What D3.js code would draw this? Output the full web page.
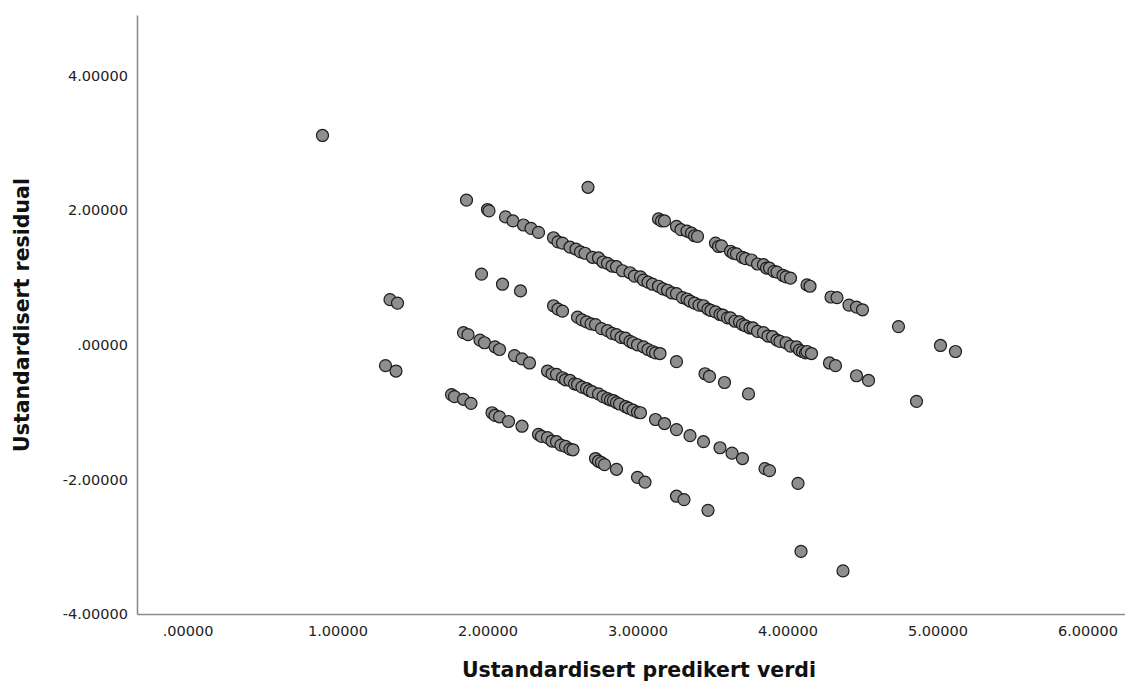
<!DOCTYPE html>
<html>
<head>
<meta charset="utf-8">
<script src="https://cdn.jsdelivr.net/npm/d3@7"></script>
<style>
  body { margin: 0; background: #fff; }
  svg { display: block; }
</style>
</head>
<body>
<svg id="chart" width="1125" height="683"></svg>
<script>
// Unstandardized predicted values (x) and unstandardized residuals (y), one entry per case.
const predicted = [
  // observed value 4
  0.90, 1.86, 2.00, 2.01, 2.12, 2.17, 2.24, 2.29, 2.34, 2.44, 2.47, 2.50, 2.55, 2.59, 2.62, 2.65,
  2.70, 2.74, 2.77, 2.80, 2.83, 2.86, 2.90, 2.95, 2.98, 3.02, 3.04, 3.07, 3.10, 3.14, 3.17, 3.20,
  3.23, 3.26, 3.30, 3.33, 3.35, 3.38, 3.41, 3.44, 3.47, 3.49, 3.52, 3.55, 3.57, 3.60, 3.62, 3.65,
  3.68, 3.70, 3.72, 3.75, 3.77, 3.80, 3.84, 3.87, 3.90, 3.93, 3.95, 3.99, 4.02, 4.06, 4.08, 4.10,
  4.12, 4.13, 4.16, 4.28, 4.32, 4.46, 4.54, 4.86,
  // observed value 5
  2.67, 3.14, 3.16, 3.18, 3.26, 3.29, 3.33, 3.36, 3.38, 3.40, 3.52, 3.54, 3.56, 3.62, 3.64, 3.66,
  3.70, 3.72, 3.76, 3.80, 3.84, 3.86, 3.88, 3.91, 3.93, 3.97, 3.99, 4.02, 4.13, 4.15, 4.29, 4.33,
  4.41, 4.46, 4.50, 4.74, 5.02, 5.12,
  // observed value 3
  1.96, 2.10, 2.22, 2.44, 2.47, 2.50, 2.60, 2.63, 2.66, 2.69, 2.72, 2.76, 2.80, 2.83, 2.86, 2.89,
  2.92, 2.95, 2.97, 3.00, 3.04, 3.07, 3.10, 3.12, 3.15, 3.26, 3.45, 3.48, 3.58, 3.74,
  // observed value 2
  1.35, 1.40, 1.84, 1.87, 1.95, 1.98, 2.05, 2.08, 2.18, 2.23, 2.28, 2.40, 2.43, 2.46, 2.50, 2.52,
  2.55, 2.58, 2.60, 2.63, 2.66, 2.68, 2.70, 2.74, 2.77, 2.80, 2.82, 2.84, 2.86, 2.88, 2.92, 2.94,
  2.97, 3.00, 3.02, 3.12, 3.18, 3.26, 3.35, 3.44, 3.55, 3.63, 3.70, 3.85, 3.88, 4.07,
  // observed value 1
  1.32, 1.39, 1.76, 1.78, 1.84, 1.89, 2.03, 2.05, 2.08, 2.14, 2.23, 2.34, 2.36, 2.40, 2.43, 2.46,
  2.49, 2.52, 2.55, 2.57, 2.72, 2.74, 2.76, 2.78, 2.86, 3.00, 3.05, 3.26, 3.31, 3.47, 4.09, 4.37
];
const residual = [
  // observed value 4
  3.11, 2.15, 2.01, 1.99, 1.90, 1.84, 1.78, 1.73, 1.67, 1.59, 1.53, 1.51, 1.45, 1.42, 1.38, 1.36,
  1.30, 1.29, 1.23, 1.21, 1.17, 1.16, 1.10, 1.07, 1.02, 1.01, 0.96, 0.93, 0.90, 0.87, 0.83, 0.81,
  0.77, 0.76, 0.70, 0.68, 0.65, 0.62, 0.59, 0.58, 0.53, 0.51, 0.49, 0.45, 0.44, 0.40, 0.40, 0.35,
  0.34, 0.30, 0.28, 0.25, 0.25, 0.20, 0.18, 0.13, 0.12, 0.07, 0.05, 0.03, -0.02, -0.03, -0.08, -0.10,
  -0.12, -0.10, -0.13, -0.27, -0.31, -0.46, -0.53, -0.84,
  // observed value 5
  2.34, 1.87, 1.84, 1.84, 1.76, 1.71, 1.69, 1.66, 1.62, 1.61, 1.51, 1.46, 1.47, 1.39, 1.36, 1.35,
  1.30, 1.28, 1.26, 1.20, 1.19, 1.14, 1.14, 1.09, 1.08, 1.03, 1.01, 0.99, 0.89, 0.87, 0.71, 0.70,
  0.59, 0.56, 0.52, 0.27, -0.01, -0.10,
  // observed value 3
  1.05, 0.90, 0.80, 0.58, 0.53, 0.50, 0.41, 0.37, 0.34, 0.31, 0.30, 0.24, 0.21, 0.17, 0.15, 0.11,
  0.10, 0.05, 0.03, 0.00, -0.03, -0.07, -0.10, -0.12, -0.13, -0.25, -0.43, -0.47, -0.56, -0.73,
  // observed value 2
  0.67, 0.62, 0.18, 0.15, 0.07, 0.03, -0.03, -0.07, -0.16, -0.21, -0.27, -0.39, -0.43, -0.44, -0.49, -0.52,
  -0.53, -0.58, -0.59, -0.63, -0.65, -0.68, -0.70, -0.73, -0.77, -0.80, -0.82, -0.83, -0.86, -0.88, -0.92, -0.94,
  -0.97, -1.00, -1.01, -1.11, -1.17, -1.26, -1.35, -1.44, -1.53, -1.61, -1.69, -1.84, -1.87, -2.06,
  // observed value 1
  -0.31, -0.39, -0.74, -0.77, -0.81, -0.87, -1.01, -1.05, -1.07, -1.14, -1.21, -1.33, -1.36, -1.38, -1.43, -1.44,
  -1.49, -1.51, -1.55, -1.56, -1.69, -1.73, -1.75, -1.78, -1.85, -1.97, -2.04, -2.25, -2.30, -2.46, -3.07, -3.36
];

const xTicks = [0, 1, 2, 3, 4, 5, 6];
const xTickLabels = [".00000", "1.00000", "2.00000", "3.00000", "4.00000", "5.00000", "6.00000"];
const yTicks = [-4, -2, 0, 2, 4];
const yTickLabels = ["-4.00000", "-2.00000", ".00000", "2.00000", "4.00000"];
const xTitle = "Ustandardisert predikert verdi";
const yTitle = "Ustandardisert residual";

const svg = d3.select("#chart");
const plot = { left: 137, right: 1125, top: 15, bottom: 614 };

const x = d3.scaleLinear().domain([-0.3367, 6.25]).range([plot.left, plot.right]);
const y = d3.scaleLinear().domain([-4, 4.9]).range([plot.bottom, plot.top]);

const axisColor = "#8c8c8c";
const tickFont = "DejaVu Sans, sans-serif";

// Bottom axis
const xAxis = d3.axisBottom(x)
  .tickValues(xTicks)
  .tickFormat((d, i) => xTickLabels[i])
  .tickSize(0)
  .tickPadding(12);
const gx = svg.append("g").attr("transform", `translate(0,${plot.bottom})`).call(xAxis);

// Left axis
const yAxis = d3.axisLeft(y)
  .tickValues(yTicks)
  .tickFormat((d, i) => yTickLabels[i])
  .tickSize(0)
  .tickPadding(9);
const gy = svg.append("g").attr("transform", `translate(${plot.left},0)`).call(yAxis);

[gx, gy].forEach(g => {
  g.select(".domain").attr("stroke", axisColor).attr("stroke-width", 1.6);
  g.selectAll("text")
    .attr("fill", "#222")
    .style("font-family", tickFont)
    .style("font-size", "14.5px");
});

// Points
svg.append("g")
  .selectAll("circle")
  .data(predicted.map((p, i) => [p, residual[i]]))
  .join("circle")
  .attr("cx", d => x(d[0]))
  .attr("cy", d => y(d[1]))
  .attr("r", 6)
  .attr("fill", "#8e8e8e")
  .attr("stroke", "#1c1c1c")
  .attr("stroke-width", 1.2);

// Axis titles
svg.append("text")
  .attr("x", (plot.left + plot.right) / 2 + 8)
  .attr("y", 677)
  .attr("text-anchor", "middle")
  .style("font-family", "DejaVu Sans, sans-serif")
  .style("font-weight", "bold")
  .style("font-size", "20.5px")
  .attr("fill", "#111")
  .text(xTitle);

svg.append("text")
  .attr("transform", `translate(29,315) rotate(-90)`)
  .attr("text-anchor", "middle")
  .style("font-family", "DejaVu Sans, sans-serif")
  .style("font-weight", "bold")
  .style("font-size", "20.5px")
  .attr("fill", "#111")
  .text(yTitle);
</script>
</body>
</html>
